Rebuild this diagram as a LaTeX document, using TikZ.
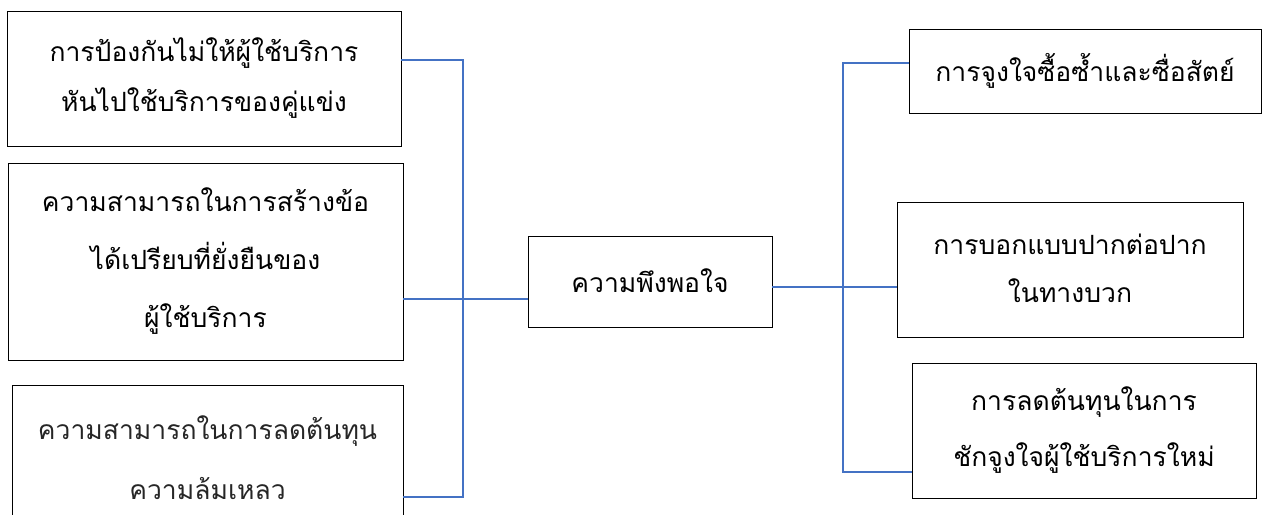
\documentclass[tikz,border=0pt]{standalone}
\usepackage{fontspec}
\newfontfamily\thaifont[Script=Thai]{Loma}
\definecolor{connblue}{HTML}{4472C4}
\tikzset{
  box/.style={draw=black, line width=0.9pt, fill=white, inner sep=0pt, align=center,
    font=\thaifont\fontsize{26.5}{50}\selectfont, text=black},
  conn/.style={draw=connblue, line width=1.2pt},
}
\begin{document}
\begin{tikzpicture}[x=1pt,y=-1pt]
\useasboundingbox (0,0) rectangle (1265,514);
% left boxes
\node[box, minimum width=394pt, minimum height=135pt] (L1) at (204,78.5)
  {การป้องกันไม่ให้ผู้ใช้บริการ\\หันไปใช้บริการของคู่แข่ง};
\node[box, minimum width=395pt, minimum height=197pt, font=\thaifont\fontsize{26.5}{58}\selectfont] (L2) at (205.5,261.5)
  {ความสามารถในการสร้างข้อ\\ได้เปรียบที่ยั่งยืนของ\\ผู้ใช้บริการ};
\node[box, minimum width=391pt, minimum height=150pt, font=\thaifont\fontsize{26.5}{60}\selectfont, text=black!85] (L3) at (207.5,460)
  {\raisebox{4pt}{ความสามารถในการลดต้นทุน}\\\raisebox{4pt}{ความล้มเหลว}};
% center
\node[box, minimum width=244pt, minimum height=91pt] (C) at (650,281.5) {\raisebox{2pt}{ความพึงพอใจ}};
% right boxes
\node[box, minimum width=352pt, minimum height=84pt] (R1) at (1085,71) {การจูงใจซื้อซ้ำและซื่อสัตย์};
\node[box, minimum width=346pt, minimum height=135pt, font=\thaifont\fontsize{26.5}{48}\selectfont] (R2) at (1070,269.5)
  {\raisebox{3pt}{การบอกแบบปากต่อปาก}\\\raisebox{3pt}{ในทางบวก}};
\node[box, minimum width=344pt, minimum height=135pt, font=\thaifont\fontsize{26.5}{56}\selectfont] (R3) at (1084,430.5)
  {\raisebox{3pt}{การลดต้นทุนในการ}\\\raisebox{3pt}{ชักจูงใจผู้ใช้บริการใหม่}};
% bus coordinates
\coordinate (lbt) at (463,60);
\coordinate (lbm) at (463,299);
\coordinate (lbb) at (463,497);
\coordinate (rbt) at (843,63);
\coordinate (rbm) at (843,287);
\coordinate (rbb) at (843,472);
% left connectors
\draw[conn] (L1.east |- lbt) -- (lbt) -- (lbb) -- (L3.east |- lbb);
\draw[conn] (L2.east |- lbm) -- (C.west |- lbm);
% right connectors
\draw[conn] (C.east |- rbm) -- (R2.west |- rbm);
\draw[conn] (R1.west |- rbt) -- (rbt) -- (rbb) -- (R3.west |- rbb);
\end{tikzpicture}
\end{document}
